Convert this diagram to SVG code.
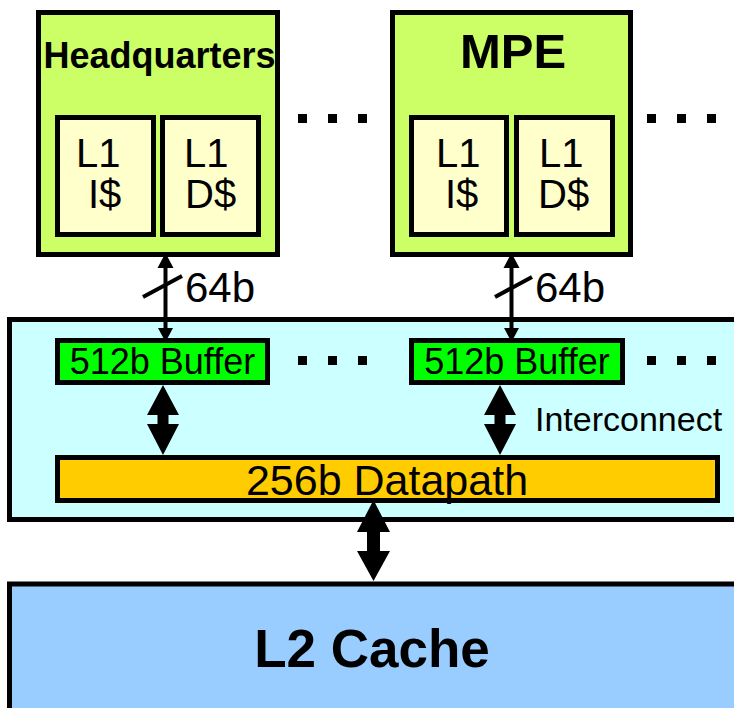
<svg xmlns="http://www.w3.org/2000/svg" width="734" height="708" viewBox="0 0 734 708">
<style>
text{font-family:"Liberation Sans",Arial,sans-serif;fill:#000}
.box{stroke:#000;stroke-width:5}
.core{fill:#CCFF66}
.l1{fill:#FFFFCC}
.buf{fill:#00FF00}
.dp{fill:#FFCC00}
.ic{fill:#CCFFFF}
.l2{fill:#99CCFF}
.b{font-weight:bold}
.t40{font-size:40px}
.dot{fill:#000}
.wire{stroke:#000;stroke-width:4;fill:none}
.head{fill:#000}
</style>
<rect width="734" height="708" fill="#fff"/>
<g id="interconnect">
<rect class="box ic" x="9.5" y="319.5" width="740" height="200"/>
<text x="535" y="431" font-size="34">Interconnect</text>
</g>
<g id="l2cache">
<rect class="box l2" x="9.5" y="584" width="740" height="140"/>
<text class="b" x="372" y="667" font-size="53" text-anchor="middle">L2 Cache</text>
</g>
<g id="headquarters">
<rect class="box core" x="38.5" y="12.5" width="239" height="242"/>
<text class="b" x="159.5" y="68" font-size="36" text-anchor="middle">Headquarters</text>
<g id="hq-l1i">
<rect class="box l1" x="57.5" y="117.5" width="96" height="117"/>
<text class="t40" x="76" y="167">L1</text>
<text class="t40" x="88" y="208">I$</text>
</g>
<g id="hq-l1d">
<rect class="box l1" x="162.5" y="117.5" width="96" height="117"/>
<text class="t40" x="184" y="167">L1</text>
<text class="t40" x="185" y="208">D$</text>
</g>
</g>
<g id="mpe">
<rect class="box core" x="392.5" y="12.5" width="238" height="242"/>
<text class="b" x="513" y="68" font-size="49" text-anchor="middle">MPE</text>
<g id="mpe-l1i">
<rect class="box l1" x="411.5" y="117.5" width="95" height="117"/>
<text class="t40" x="436" y="167">L1</text>
<text class="t40" x="445" y="208">I$</text>
</g>
<g id="mpe-l1d">
<rect class="box l1" x="516.5" y="117.5" width="96" height="117"/>
<text class="t40" x="539" y="167">L1</text>
<text class="t40" x="538" y="208">D$</text>
</g>
</g>
<g id="buffer1">
<rect class="box buf" x="57.5" y="340.5" width="210" height="42"/>
<text x="162.5" y="374" font-size="36" text-anchor="middle">512b Buffer</text>
</g>
<g id="buffer2">
<rect class="box buf" x="411.5" y="340.5" width="211" height="42"/>
<text x="517" y="374" font-size="36" text-anchor="middle">512b Buffer</text>
</g>
<g id="datapath">
<rect class="box dp" x="57.5" y="457.5" width="660" height="43"/>
<text x="387" y="495" font-size="43" text-anchor="middle">256b Datapath</text>
</g>
<g id="ellipses">
<rect class="dot" x="298" y="114" width="9" height="9"/>
<rect class="dot" x="328" y="114" width="9" height="9"/>
<rect class="dot" x="358" y="114" width="9" height="9"/>
<rect class="dot" x="647" y="114" width="9" height="9"/>
<rect class="dot" x="677" y="114" width="9" height="9"/>
<rect class="dot" x="707" y="114" width="9" height="9"/>
<rect class="dot" x="298" y="356" width="9" height="9"/>
<rect class="dot" x="328" y="356" width="9" height="9"/>
<rect class="dot" x="358" y="356" width="9" height="9"/>
<rect class="dot" x="647" y="356" width="9" height="9"/>
<rect class="dot" x="677" y="356" width="9" height="9"/>
<rect class="dot" x="707" y="356" width="9" height="9"/>
</g>
<g id="connectors">
<g id="hq-link">
<line class="wire" x1="165.5" y1="266" x2="165.5" y2="330"/>
<polygon class="head" points="165.5,253 173.5,268 157.5,268"/>
<polygon class="head" points="165.5,342 173,328 158,328"/>
<line class="wire" x1="143" y1="297" x2="182" y2="276" stroke-width="5"/>
<text x="185" y="302" font-size="42">64b</text>
</g>
<g id="mpe-link">
<line class="wire" x1="511.5" y1="266" x2="511.5" y2="330"/>
<polygon class="head" points="511.5,253 519.5,268 503.5,268"/>
<polygon class="head" points="511.5,342 519,328 504,328"/>
<line class="wire" x1="495" y1="297" x2="532" y2="277" stroke-width="5"/>
<text x="535" y="302" font-size="42">64b</text>
</g>
<polygon id="buf1-dp" class="head" points="163,385 179,415 168.5,415 168.5,424 179,424 163,455 147,424 157.5,424 157.5,415 147,415"/>
<polygon id="buf2-dp" class="head" points="500,385 516,415 505.5,415 505.5,424 516,424 500,455 484,424 494.5,424 494.5,415 484,415"/>
<polygon id="dp-l2" class="head" points="373.5,500 390,532 380,532 380,551 390,551 373.5,581 357,551 367,551 367,532 357,532"/>
</g>
</svg>
